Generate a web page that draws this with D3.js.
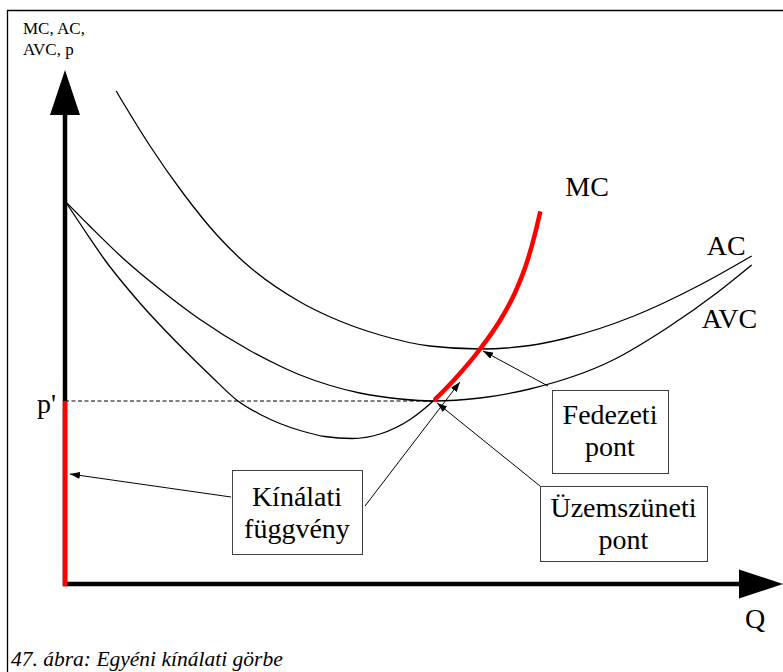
<!DOCTYPE html>
<html>
<head>
<meta charset="utf-8">
<script src="https://cdn.jsdelivr.net/npm/d3@7"></script>
<style>
  html, body { margin: 0; padding: 0; background: #fff; }
  svg { display: block; }
  text { font-family: "Liberation Serif", "Times New Roman", serif; fill: #000; }
</style>
</head>
<body>
<svg id="chart" width="783" height="672" font-family="Liberation Serif, serif"></svg>
<script>
// Cost curves of a single firm: quantity Q and price/cost p (relative units)
const acCurve = [
  [7.3, 98.6], [12.1, 87.7], [16.9, 78.1], [21.7, 69.8], [25.4, 64.6],
  [33.6, 56.4], [37.9, 53.4], [45.0, 49.8], [52.1, 47.6], [59.3, 47.0],
  [66.4, 47.7], [71.7, 49.2], [81.1, 53.5], [90.7, 59.8], [98.1, 65.6]
];
const avcCurve = [
  [0, 76.6], [3.6, 71.5], [8.4, 65.0], [13.6, 58.9], [19.3, 52.9],
  [26.4, 46.7], [30.7, 43.6], [33.6, 41.8], [37.9, 39.7], [42.1, 38.2],
  [47.9, 37.0], [52.6, 36.6], [59.3, 37.2], [66.4, 39.0], [78.3, 44.8],
  [86.0, 51.2], [93.1, 58.2], [98.1, 63.8]
];
const mcCurve = [
  [0, 76.6], [2.9, 70.5], [5.7, 64.8], [10.7, 56.2], [16.9, 47.0],
  [20.7, 41.8], [24.7, 36.6], [27.9, 33.9], [30.7, 32.1], [33.6, 30.7],
  [37.1, 29.5], [41.0, 29.1], [45.0, 30.0], [49.3, 32.9], [52.6, 36.6],
  [55.7, 41.0], [59.3, 47.0], [62.1, 52.6], [64.3, 58.3], [66.0, 64.4],
  [67.1, 69.8], [67.9, 74.5]
];
// Shutdown point (AVC minimum) and break-even point (AC minimum)
const shutdownPoint = [52.6, 36.6];
const breakEvenPoint = [59.3, 47.0];
// Point on the vertical (p < p') part of the supply function
const axisSupplyPoint = [0, 22];
// Point on the rising MC part of the supply function
const mcSupplyPoint = [55.7, 41.0];

const axisTitle = ["MC, AC,", "AVC, p"];
const curveNames = { mc: "MC", ac: "AC", avc: "AVC" };
const priceLabel = "p'";
const quantityLabel = "Q";
const boxSupply = ["Kínálati", "függvény"];
const boxBreakEven = ["Fedezeti", "pont"];
const boxShutdown = ["Üzemszüneti", "pont"];
const caption = "47. ábra: Egyéni kínálati görbe";

const W = 783, H = 672;
const svg = d3.select("#chart");

const x = d3.scaleLinear().domain([0, 100]).range([65, 765]);
const y = d3.scaleLinear().domain([0, 100]).range([584, 84]);

const line = d3.line()
  .x(d => x(d[0]))
  .y(d => y(d[1]))
  .curve(d3.curveMonotoneX);

// Frame (top and left rules)
svg.append("path")
  .attr("d", `M7.5,${H} L7.5,10.5 L${W},10.5`)
  .attr("fill", "none")
  .attr("stroke", "#000")
  .attr("stroke-width", 1.3);

// Arrowhead marker for annotation pointers
const defs = svg.append("defs");
defs.append("marker")
  .attr("id", "tip")
  .attr("viewBox", "0 0 10 7")
  .attr("refX", 10).attr("refY", 3.5)
  .attr("markerWidth", 10).attr("markerHeight", 7)
  .attr("markerUnits", "userSpaceOnUse")
  .attr("orient", "auto")
  .append("path")
  .attr("d", "M0,0 L10,3.5 L0,7 Z")
  .attr("fill", "#000");

defs.append("clipPath").attr("id", "supplyClip")
  .append("rect")
  .attr("x", x(shutdownPoint[0]))
  .attr("y", 0)
  .attr("width", W)
  .attr("height", y(shutdownPoint[1]) + 1);

// Dashed p' guide
svg.append("line")
  .attr("x1", x(0)).attr("x2", x(shutdownPoint[0]))
  .attr("y1", y(shutdownPoint[1])).attr("y2", y(shutdownPoint[1]))
  .attr("stroke", "#000").attr("stroke-width", 1)
  .attr("stroke-dasharray", "4,2.5");

// Cost curves
[acCurve, avcCurve, mcCurve].forEach(c => {
  svg.append("path")
    .attr("d", line(c))
    .attr("fill", "none")
    .attr("stroke", "#000")
    .attr("stroke-width", 1.3);
});

// Supply function: MC above the AVC minimum
svg.append("path")
  .attr("d", line(mcCurve))
  .attr("fill", "none")
  .attr("stroke", "#ff0000")
  .attr("stroke-width", 4.5)
  .attr("clip-path", "url(#supplyClip)");

// Axes with large arrowheads
const ox = x(0), oy = y(0);
svg.append("line")
  .attr("x1", ox).attr("x2", ox)
  .attr("y1", oy + 2).attr("y2", 112)
  .attr("stroke", "#000").attr("stroke-width", 4.5);
svg.append("path")
  .attr("d", `M${ox},70 L${ox - 15},115 L${ox + 15},115 Z`)
  .attr("fill", "#000");
svg.append("line")
  .attr("x1", ox - 2).attr("x2", 742)
  .attr("y1", oy).attr("y2", oy)
  .attr("stroke", "#000").attr("stroke-width", 4.5);
svg.append("path")
  .attr("d", `M${W},${oy} L739,${oy - 14.5} L739,${oy + 14.5} Z`)
  .attr("fill", "#000");

// Supply function: vertical part on the price axis below p'
svg.append("line")
  .attr("x1", ox).attr("x2", ox)
  .attr("y1", y(shutdownPoint[1])).attr("y2", oy + 2.2)
  .attr("stroke", "#ff0000").attr("stroke-width", 4.5);

// Axis titles
svg.append("text")
  .attr("x", 23).attr("y", 34)
  .attr("font-size", 17)
  .selectAll("tspan").data(axisTitle).join("tspan")
  .attr("x", 23).attr("dy", (d, i) => i === 0 ? 0 : 20.5)
  .text(d => d);

svg.append("text")
  .attr("x", ox - 28).attr("y", y(shutdownPoint[1]) + 12)
  .attr("font-size", 28)
  .text(priceLabel);

svg.append("text")
  .attr("x", 745).attr("y", oy + 44)
  .attr("font-size", 28)
  .text(quantityLabel);

// Curve names
const mcEnd = mcCurve[mcCurve.length - 1];
const acEnd = acCurve[acCurve.length - 1];
const avcEnd = avcCurve[avcCurve.length - 1];
svg.append("text")
  .attr("x", x(mcEnd[0]) + 25).attr("y", y(mcEnd[1]) - 16)
  .attr("font-size", 28).text(curveNames.mc);
svg.append("text")
  .attr("x", x(acEnd[0]) - 45).attr("y", y(acEnd[1]) - 1)
  .attr("font-size", 28).text(curveNames.ac);
svg.append("text")
  .attr("x", x(avcEnd[0]) - 50).attr("y", y(avcEnd[1]) + 63)
  .attr("font-size", 28).text(curveNames.avc);

// Annotation pointers
function pointer(from, target, dx, dy) {
  svg.append("line")
    .attr("x1", from[0]).attr("y1", from[1])
    .attr("x2", x(target[0]) + dx).attr("y2", y(target[1]) + dy)
    .attr("stroke", "#000").attr("stroke-width", 1)
    .attr("marker-end", "url(#tip)");
}
pointer([231, 497], axisSupplyPoint, 5, 0);
pointer([365, 506], mcSupplyPoint, 5, 3);
pointer([540, 486], shutdownPoint, 4, 2);
pointer([548, 386], breakEvenPoint, 3, 2);

// Annotation boxes
function box(x0, y0, w, h, lines, base) {
  svg.append("rect")
    .attr("x", x0 + 0.5).attr("y", y0 + 0.5)
    .attr("width", w).attr("height", h)
    .attr("fill", "#fff")
    .attr("stroke", "#404040").attr("stroke-width", 1);
  svg.append("text")
    .attr("text-anchor", "middle")
    .attr("font-size", 28)
    .selectAll("tspan").data(lines).join("tspan")
    .attr("x", x0 + w / 2)
    .attr("y", (d, i) => y0 + base + i * 31.5)
    .text(d => d);
}
box(232, 470, 130, 84, boxSupply, 36);
box(552, 390, 116, 83, boxBreakEven, 34);
box(540, 486, 167, 75, boxShutdown, 31);

// Caption
svg.append("text")
  .attr("x", 11).attr("y", 666)
  .attr("font-size", 21.5)
  .attr("font-style", "italic")
  .attr("fill", "#111")
  .text(caption);
</script>
</body>
</html>
